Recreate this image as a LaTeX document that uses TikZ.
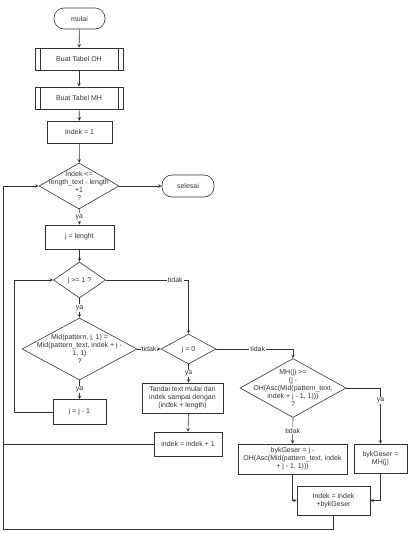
\documentclass[tikz,border=0pt]{standalone}
\usepackage{fontspec}
\setmainfont{Liberation Sans}
\usepackage{tikz}
\usetikzlibrary{shapes.geometric, arrows, positioning}
\tikzstyle{arrow} = [->,>=stealth]
\newcommand{\dtext}[1]{\smash{\raisebox{-2.5pt}{\makebox[0pt]{\begin{tabular}{@{}c@{}}#1\end{tabular}}}}}

\begin{document}
\begin{tikzpicture}[x=1pt, y=-1pt, font=\fontsize{7}{8}\selectfont, line width=0.6pt, color=black!80]
				% Define styles for the different elements of the flowchart
				\tikzstyle{term} = [rectangle, draw, rounded corners=10pt, minimum width=51pt, minimum height=21pt]
				\tikzstyle{proc} = [rectangle, draw, inner sep=1.5pt, align=center]
				\tikzstyle{predef} = [proc, minimum width=88pt, minimum height=22pt, path picture={
						\draw ([xshift=5pt]path picture bounding box.north west) -- ([xshift=5pt]path picture bounding box.south west);
						\draw ([xshift=-5pt]path picture bounding box.north east) -- ([xshift=-5pt]path picture bounding box.south east);}]
				\tikzstyle{dec} = [diamond, draw, inner sep=0pt]
				\tikzstyle{lbl} = [fill=white, inner sep=1pt]
				
				\useasboundingbox (0,0) rectangle (411,533);
				
				% Start and tables
				\node[term] (mulai) at (79.5,18.5) {mulai};
				\node[predef] (oh) at (79,59) {Buat Tabel OH};
				\node[predef] (mh) at (79,98) {Buat Tabel MH};
				\node[proc, minimum width=65pt, minimum height=22pt] (init) at (79.5,132) {Indek = 1};
				
				% Main loop test
				\node[dec, minimum width=80pt, minimum height=46pt] (cek) at (79,186) {\dtext{Indek <=\\length\_text - length\\+1\\?}};
				\node[term, minimum width=52pt, minimum height=22pt] (selesai) at (188,186) {selesai};
				\node[proc, minimum width=69pt, minimum height=24pt] (jset) at (79.5,237) {j = lenght};
				
				% Inner comparison
				\node[dec, minimum width=52pt, minimum height=36pt] (jcek) at (79.5,280) {\dtext{j >= 1 ?}};
				\node[dec, minimum width=115pt, minimum height=62pt] (mid) at (79.5,349) {\dtext{Mid(pattern, j, 1) =\\Mid(pattern\_text, indek + j -\\1, 1)\\?}};
				\node[proc, minimum width=53pt, minimum height=25pt] (jdec) at (79.5,412) {j = j - 1};
				
				% Match found
				\node[dec, minimum width=55pt, minimum height=30pt] (jnol) at (188.5,349) {\dtext{j = 0}};
				\node[proc, minimum width=81pt, minimum height=30pt] (tandai) at (182.5,398) {Tandai text mulai dari\\indek sampai dengan\\(indek + length)};
				\node[proc, minimum width=68pt, minimum height=24pt] (inc) at (188,444) {indek = indek + 1};
				
				% Shift
				\node[dec, minimum width=106pt, minimum height=59pt] (mhcek) at (293,388) {\dtext{MH(j) >=\\(j -\\OH(Asc(Mid(pattern\_text,\\indek + j - 1, 1)))\\?}};
				\node[proc, minimum width=109pt, minimum height=30pt] (geser1) at (292.5,459) {bykGeser = j -\\OH(Asc(Mid(pattern\_text, indek\\+ j - 1, 1)))};
				\node[proc, minimum width=53pt, minimum height=29pt] (geser2) at (380.5,458.5) {bykGeser =\\MH(j)};
				\node[proc, minimum width=73pt, minimum height=29pt] (geser) at (333.5,500.5) {Indek = indek\\+bykGeser};
				
				% Turning points
				\coordinate (loopj) at (14,412);
				\coordinate (kiri) at (3,529);
				
				% Connectors
				\draw[arrow] (mulai) -- (oh);
				\draw[arrow] (oh) -- (mh);
				\draw[arrow] (mh) -- (init);
				\draw[arrow] (init) -- (cek);
				\draw[arrow] (cek) -- (selesai);
				\draw[arrow] (cek) -- node[lbl] {ya} (jset);
				\draw[arrow] (jset) -- (jcek);
				\draw[arrow] (jcek) -- node[lbl] {ya} (mid);
				\draw[arrow] (mid) -- node[lbl] {ya} (jdec);
				\draw[arrow] (jdec.west) -- (loopj) |- (jcek.west);
				\draw[arrow] (jcek.east) -| node[lbl, pos=0.42] {tidak} (jnol.north);
				\draw[arrow] (mid.east) -- node[lbl] {tidak} (jnol.west);
				\draw[arrow] (jnol.south) -- node[lbl] {ya} (jnol.south |- tandai.north);
				\draw[arrow] (jnol.south |- tandai.south) -- (inc.north);
				\draw[arrow] (jnol.east) -| node[lbl, pos=0.27] {tidak} (mhcek.north);
				\draw[arrow] (mhcek.east) -| node[lbl, pos=0.61] {ya} (geser2.north);
				\draw[arrow] (mhcek.south) -- node[lbl] {tidak} (geser1.north);
				\draw[arrow] (geser1.south) |- (geser.west);
				\draw[arrow] (geser2.south) |- (geser.east);
				\draw[arrow] (geser.south) |- (kiri) |- (cek.west);
				\draw (inc.west) -- (inc.west -| kiri);
			\end{tikzpicture}
\end{document}
